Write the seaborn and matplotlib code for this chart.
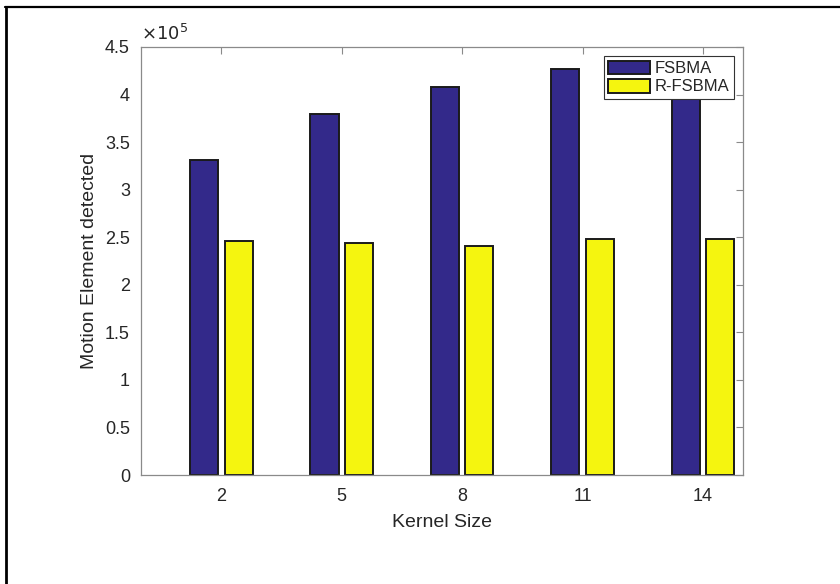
import matplotlib
matplotlib.use("Agg")
import matplotlib.pyplot as plt
import seaborn as sns
import pandas as pd
from matplotlib.lines import Line2D
from matplotlib.ticker import FuncFormatter

kernel_sizes = [2, 5, 8, 11, 14]
fsbma = [3.31e5, 3.79e5, 4.08e5, 4.27e5, 4.32e5]
r_fsbma = [2.46e5, 2.44e5, 2.41e5, 2.48e5, 2.48e5]
series_names = ["FSBMA", "R-FSBMA"]
colors = ["#33298a", "#f5f50f"]

df = pd.DataFrame({
    "Kernel Size": kernel_sizes * 2,
    "value": fsbma + r_fsbma,
    "method": [series_names[0]] * 5 + [series_names[1]] * 5,
})

sns.set_style("white")
plt.rcParams["font.family"] = ["Liberation Sans", "DejaVu Sans"]

fig = plt.figure(figsize=(8.4, 5.84), dpi=100)
ax = fig.add_axes([0.1679, 0.1866, 0.7167, 0.733])

sns.barplot(data=df, x="Kernel Size", y="value", hue="method",
            palette=colors, saturation=1, native_scale=True, width=0.573, gap=0.186,
            edgecolor="#1a1a1a", linewidth=1.4, ax=ax, errorbar=None)

ax.set_xlim(0, 15)
ax.set_ylim(0, 4.5e5)
ax.set_xticks(kernel_sizes)
ax.set_xticklabels([str(k) for k in kernel_sizes])
yt = [i * 0.5e5 for i in range(10)]
ax.set_yticks(yt)
ax.yaxis.set_major_formatter(FuncFormatter(lambda v, p: f"{v/1e5:g}"))

gray_txt = "#262626"
for s in ax.spines.values():
    s.set_visible(True)
    s.set_color("#8a8a8a")
    s.set_linewidth(0.9)
ax.tick_params(direction="in", length=5, width=0.8, color="#8a8a8a",
               top=True, right=True, labelsize=13, labelcolor=gray_txt)
ax.tick_params(axis="x", pad=9)
ax.tick_params(axis="y", pad=8)
ax.set_xlabel("Kernel Size", fontsize=14, color=gray_txt, labelpad=7)
ax.set_ylabel("Motion Element detected", fontsize=14, color=gray_txt, labelpad=5)
ax.text(0.0, 1.008, r"$\times10^{5}$", transform=ax.transAxes, fontsize=13,
        color=gray_txt, ha="left", va="bottom")

leg = ax.legend(loc="upper right", bbox_to_anchor=(0.985, 0.978), fontsize=12,
                frameon=True, fancybox=False, edgecolor="#333333",
                handlelength=2.5, handleheight=0.9, borderpad=0.25,
                labelspacing=0.15, handletextpad=0.3, borderaxespad=0.0)
leg.get_frame().set_linewidth(0.8)
leg.get_frame().set_alpha(1)
for t in leg.get_texts():
    t.set_color(gray_txt)

# outer border lines (table-cell style)
fig.add_artist(Line2D([5.5/840, 5.5/840], [0, 1 - 7/584], color="black",
                      lw=2.0, transform=fig.transFigure))
fig.add_artist(Line2D([5/840, 1.0], [1 - 7/584, 1 - 7/584], color="black",
                      lw=1.6, transform=fig.transFigure))

fig.savefig("out.png", dpi=100)
